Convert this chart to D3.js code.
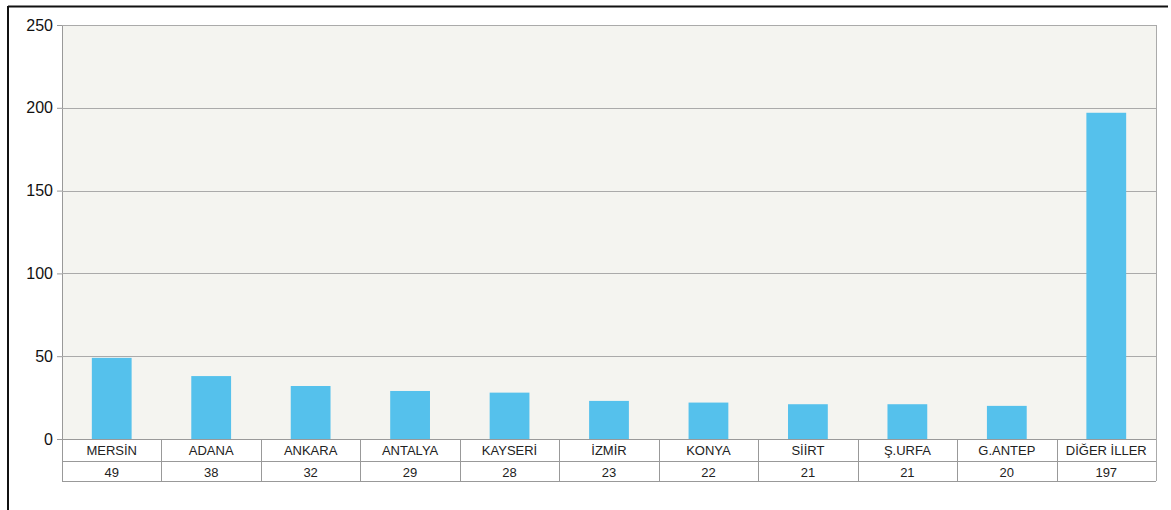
<!DOCTYPE html>
<html>
<head>
<meta charset="utf-8">
<script src="https://cdn.jsdelivr.net/npm/d3@7"></script>
<style>
  html, body { margin: 0; padding: 0; background: #fff; }
  svg { display: block; }
</style>
</head>
<body>
<svg id="chart" width="1171" height="510"></svg>
<script>
// Provinces and their counts
const categories = ["MERSİN", "ADANA", "ANKARA", "ANTALYA", "KAYSERİ", "İZMİR", "KONYA", "SİİRT", "Ş.URFA", "G.ANTEP", "DİĞER İLLER"];
const values = [49, 38, 32, 29, 28, 23, 22, 21, 21, 20, 197];
const yTicks = [0, 50, 100, 150, 200, 250];

const svg = d3.select("#chart");
const W = 1171, H = 510;
const plot = { left: 62, right: 1156, top: 25, bottom: 439 };
const rowH1 = 22, rowH2 = 20;

// Outer frame: top and left edges
svg.append("line").attr("x1", 8).attr("x2", 1168).attr("y1", 6.5).attr("y2", 6.5)
  .attr("stroke", "#111").attr("stroke-width", 2);
svg.append("line").attr("x1", 8).attr("x2", 8).attr("y1", 6).attr("y2", H)
  .attr("stroke", "#111").attr("stroke-width", 2);

const x = d3.scaleBand().domain(categories).range([plot.left, plot.right]).paddingInner(0).paddingOuter(0);
const y = d3.scaleLinear().domain([0, 250]).range([plot.bottom, plot.top]);

// Plot background
svg.append("rect")
  .attr("x", plot.left).attr("y", plot.top)
  .attr("width", plot.right - plot.left).attr("height", plot.bottom - plot.top)
  .attr("fill", "#f4f4f0");

// Y axis with gridlines
const yAxis = d3.axisLeft(y).tickValues(yTicks).tickSize(5).tickPadding(4);
const gy = svg.append("g").attr("transform", `translate(${plot.left},0)`).call(yAxis);
gy.select(".domain").attr("stroke", "#999");
gy.selectAll(".tick line").attr("stroke", "#999");
gy.selectAll(".tick text")
  .attr("fill", "#111")
  .style("font-family", "'Liberation Sans', Arial, sans-serif")
  .style("font-size", "16px");

svg.append("g").selectAll("line")
  .data(yTicks.filter(d => d > 0))
  .join("line")
  .attr("x1", plot.left).attr("x2", plot.right)
  .attr("y1", d => Math.round(y(d)) + 0.5).attr("y2", d => Math.round(y(d)) + 0.5)
  .attr("stroke", "#aaa").attr("stroke-width", 1);

// Right edge of plot
svg.append("line").attr("x1", plot.right + 0.5).attr("x2", plot.right + 0.5)
  .attr("y1", plot.top).attr("y2", plot.bottom + rowH1 + rowH2)
  .attr("stroke", "#aaa");

// Bars
const barW = x.bandwidth() * 0.4;
svg.append("g").selectAll("rect")
  .data(values)
  .join("rect")
  .attr("x", (d, i) => x(categories[i]) + (x.bandwidth() - barW) / 2)
  .attr("y", d => y(d))
  .attr("width", barW)
  .attr("height", d => y(0) - y(d))
  .attr("fill", "#55c1ec");

// Data table below the axis
const tbl = svg.append("g");
const tableTop = plot.bottom;
[tableTop, tableTop + rowH1, tableTop + rowH1 + rowH2].forEach(yy => {
  tbl.append("line").attr("x1", plot.left).attr("x2", plot.right)
    .attr("y1", yy + 0.5).attr("y2", yy + 0.5).attr("stroke", "#999");
});
tbl.selectAll("line.v")
  .data(categories)
  .join("line")
  .attr("class", "v")
  .attr("x1", d => Math.round(x(d)) + 0.5).attr("x2", d => Math.round(x(d)) + 0.5)
  .attr("y1", tableTop).attr("y2", tableTop + rowH1 + rowH2)
  .attr("stroke", "#999");

tbl.selectAll("text.cat")
  .data(categories)
  .join("text")
  .attr("class", "cat")
  .attr("x", d => x(d) + x.bandwidth() / 2)
  .attr("y", tableTop + rowH1 / 2 + 4.5)
  .attr("text-anchor", "middle")
  .attr("fill", "#222")
  .style("font-family", "'Liberation Sans', Arial, sans-serif")
  .style("font-size", "13px")
  .text(d => d);

tbl.selectAll("text.val")
  .data(values)
  .join("text")
  .attr("class", "val")
  .attr("x", (d, i) => x(categories[i]) + x.bandwidth() / 2)
  .attr("y", tableTop + rowH1 + rowH2 / 2 + 5.5)
  .attr("text-anchor", "middle")
  .attr("fill", "#222")
  .style("font-family", "'Liberation Sans', Arial, sans-serif")
  .style("font-size", "13px")
  .text(d => d);
</script>
</body>
</html>
